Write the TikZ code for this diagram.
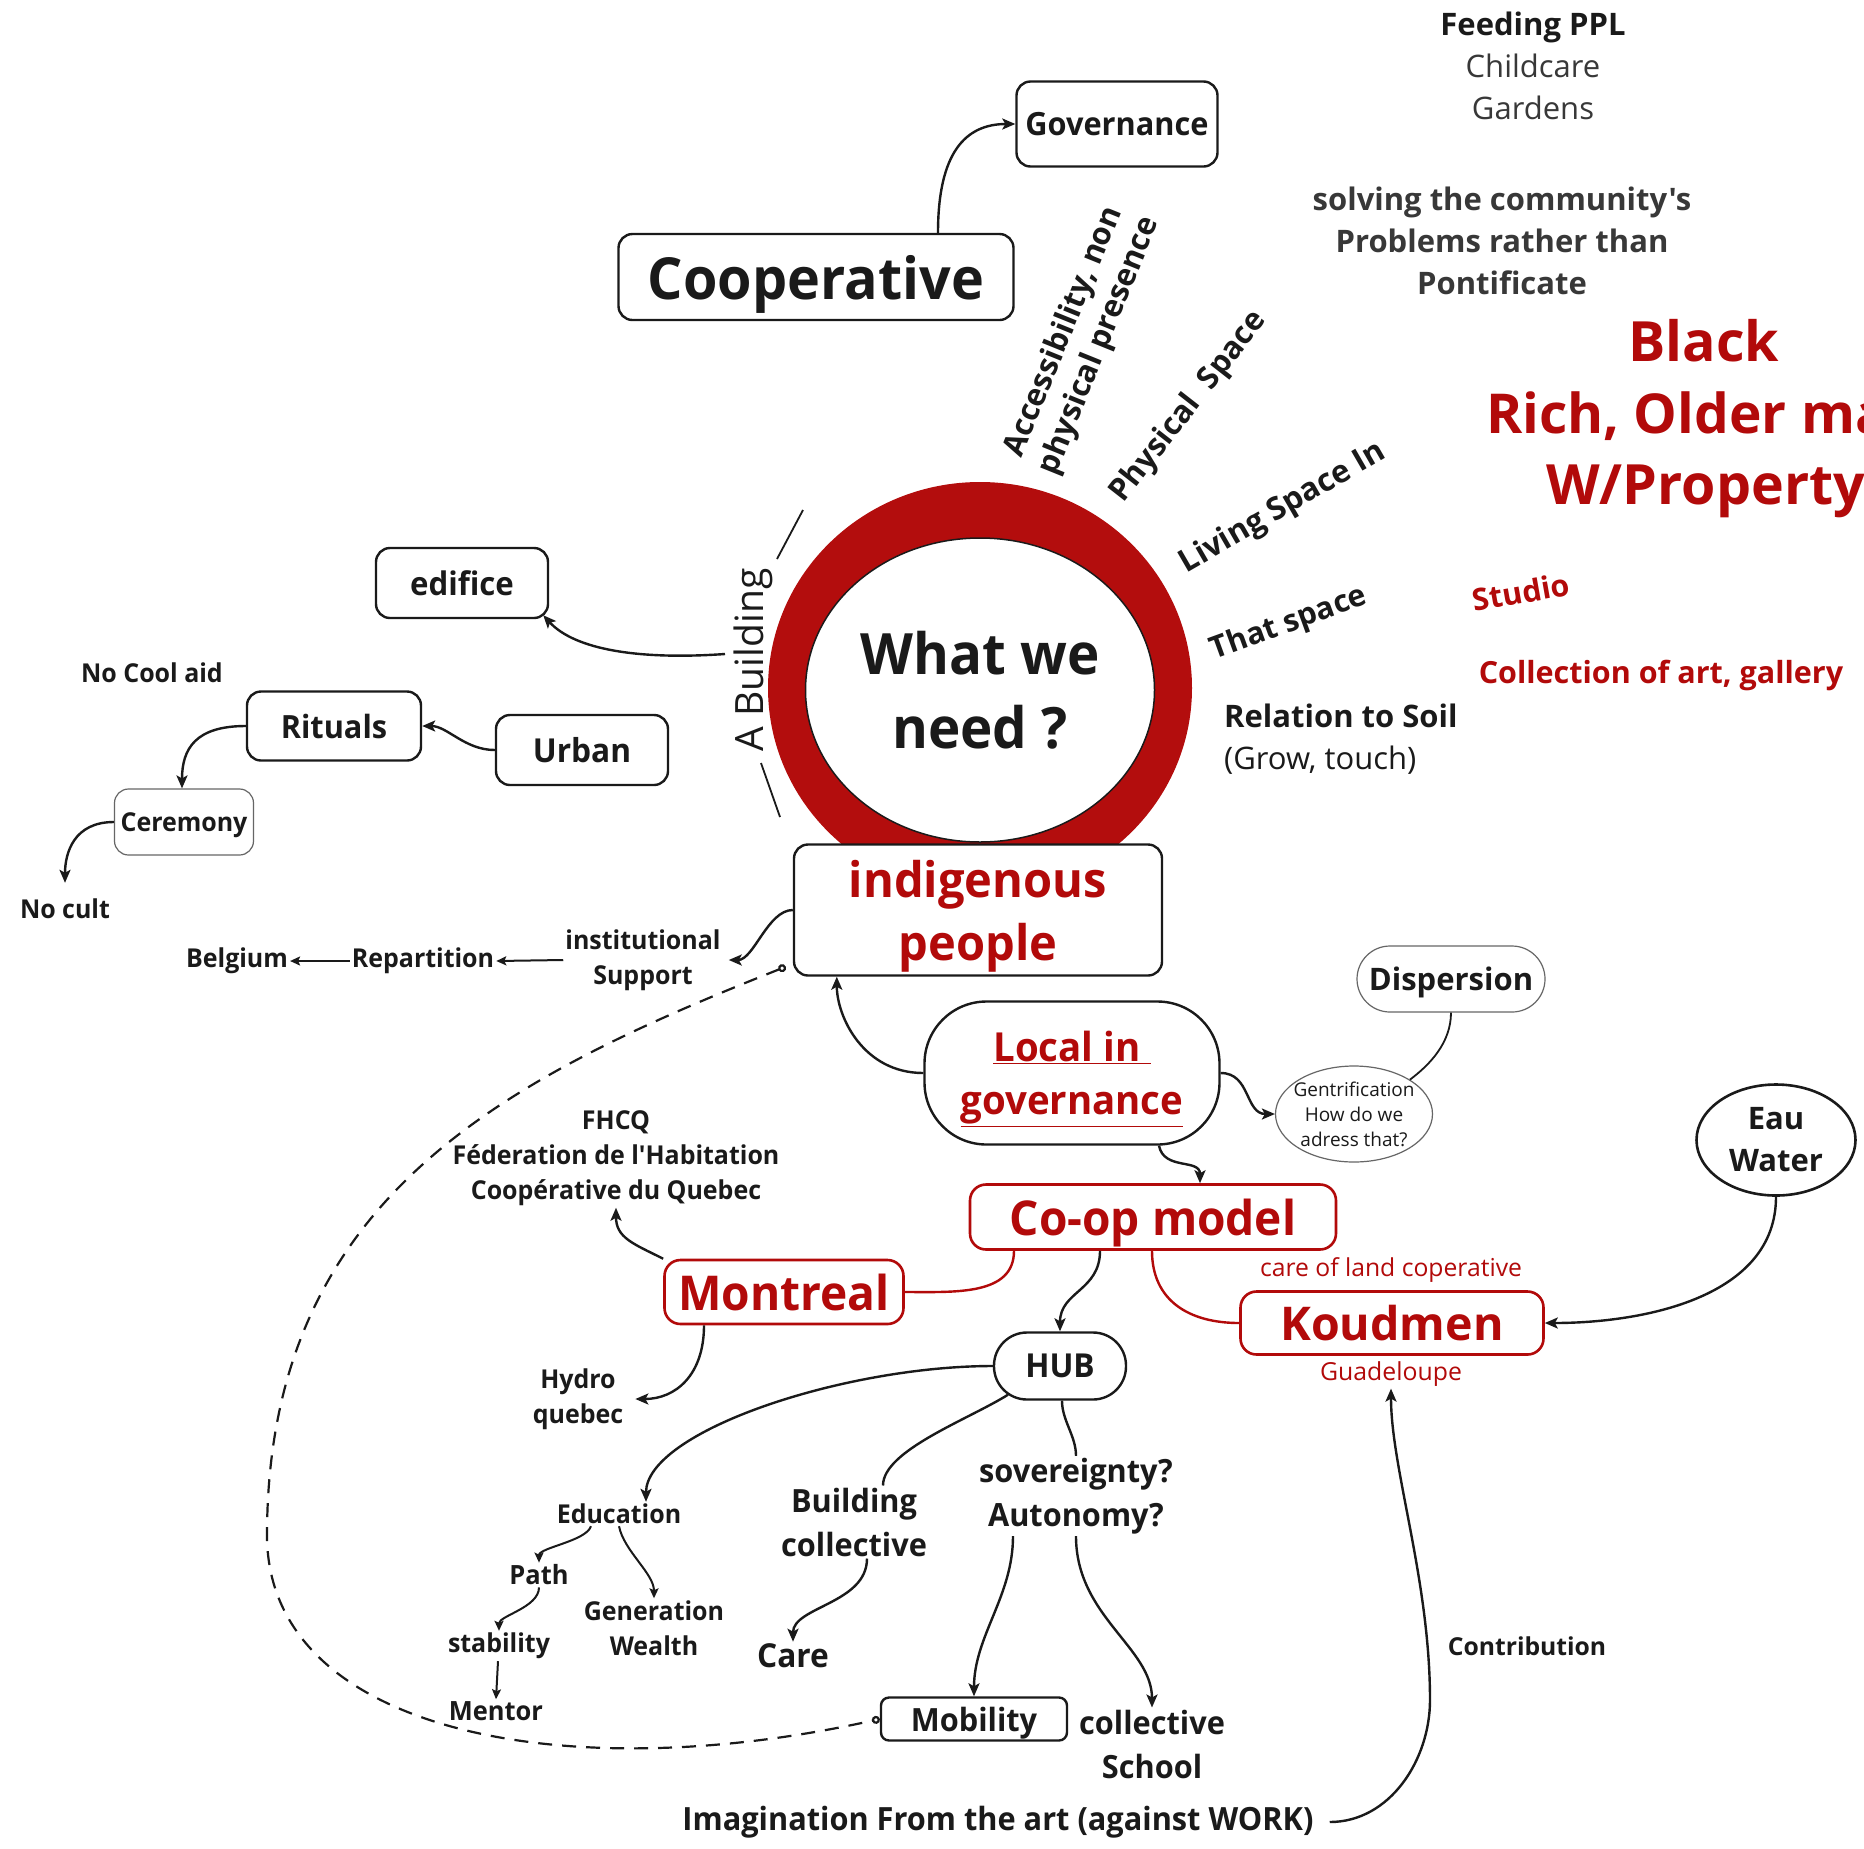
\documentclass[tikz,border=0pt]{standalone}
\usepackage{fontspec}
\setmainfont{Open Sans}[Ligatures=TeXOff]
\newfontfamily\cond{Open Sans}[FakeStretch=0.96,Ligatures=TeXOff]
\usetikzlibrary{arrows.meta,shapes.geometric,positioning}
\definecolor{ringred}{HTML}{B30D0D}
\definecolor{txtred}{HTML}{B20A0A}
\definecolor{ink}{HTML}{1A1A1A}
\definecolor{softgray}{HTML}{383838}
\newcommand\fs[2]{\fontsize{#1}{#2}\selectfont}
\tikzset{
  box/.style={draw=ink,line width=2.4pt,rounded corners=14pt,fill=white,inner sep=0pt,align=center,text=ink,text depth=0pt},
  thinbox/.style={draw=gray!80!black,line width=1.2pt,rounded corners=14pt,fill=white,inner sep=0pt,align=center,text=ink,text depth=0pt},
  redbox/.style={draw=txtred,line width=2.6pt,rounded corners=16pt,fill=white,inner sep=0pt,text=txtred,text depth=0pt},
  lbl/.style={inner sep=2pt,text=ink,align=center},
  plain/.style={draw=ink,line width=2.4pt},
  link/.style={plain,-{Stealth[length=13pt,width=11pt,inset=3pt]}},
  small/.style={plain,line width=2pt,-{Stealth[length=10pt,width=9pt,inset=2pt]}},
  redlink/.style={draw=txtred,line width=2.4pt},
}
\begin{document}
\begin{tikzpicture}[x=1pt,y=-1pt]
\clip (0,0) rectangle (1864,1848);
\fill[white] (0,0) rectangle (1864,1848);

% notes top right
\node[lbl,text=softgray,font=\fs{31}{42}] (feed) at (1533,66) {\textcolor{ink}{\textbf{Feeding PPL}}\\Childcare\\Gardens};
\node[lbl,text=softgray,font=\bfseries\fs{31}{42}] (solve) at (1502,241) {solving the community's\\Problems rather than\\Pontificate};
\node[lbl,text=txtred,font=\bfseries\fs{55.5}{75}] (black) at (1704,341) {Black};
\node[lbl,text=txtred,font=\bfseries\fs{55}{75},anchor=west] (rich) at (1484,416) {Rich, Older ma};
\node[lbl,text=txtred,font=\bfseries\fs{55.5}{75},anchor=west] (prop) at (1544,491) {W/Property};
\node[lbl,rotate=10,text=txtred,font=\bfseries\fs{30.5}{32}] (studio) at (1521,592) {Studio};
\node[lbl,text=txtred,font=\bfseries\fs{30.5}{32}] (gallery) at (1661,675) {Collection of art, gallery};

% the ring
\fill[ringred] (980,688) ellipse [x radius=212,y radius=206];
\node[ellipse,draw=ink,line width=1.5pt,fill=white,minimum width=349pt,minimum height=304pt,inner sep=0pt,align=center,text=ink,font=\cond\bfseries\fs{57}{74}] (need) at (980,690) {What we\\need ?};
\node[lbl,rotate=90,font=\fs{39}{40}] (bldg) at (753,660) {A Building};
\draw[plain,line width=1.8pt] (803,510) -- (777,559);
\draw[plain,line width=1.8pt] (761,763) -- (780,817);

\node[lbl,rotate=68,font=\bfseries\fs{31}{38}] (access) at (1082,339) {Accessibility, non\\physical presence};
\node[lbl,rotate=52,font=\bfseries\fs{31}{38}] (phys) at (1189,407) {Physical\ \ Space};
\node[lbl,rotate=30,font=\bfseries\fs{31.5}{38}] (living) at (1283,508) {Living Space In};
\node[lbl,rotate=20,font=\bfseries\fs{30.5}{38}] (that) at (1289,624) {That space};
\node[lbl,anchor=west,align=left,font=\fs{31}{42}] (soil) at (1222,739) {\textbf{Relation to Soil}\\(Grow, touch)};

% top left
\node[box,minimum width=201pt,minimum height=85pt,font=\cond\bfseries\fs{32}{36}] (gov) at (1117,124) {Governance};
\node[box,minimum width=395pt,minimum height=86pt,font=\cond\bfseries\fs{58}{70}] (coop) at (816,277) {Cooperative};
\node[box,minimum width=172pt,minimum height=70pt,font=\cond\bfseries\fs{32.5}{36}] (edif) at (462,583) {edifice};
\node[lbl,font=\cond\bfseries\fs{26}{30}] (cool) at (152,673) {No Cool aid};
\node[box,minimum width=174pt,minimum height=69pt,font=\cond\bfseries\fs{32}{36}] (rit) at (334,726) {Rituals};
\node[box,minimum width=172pt,minimum height=70pt,font=\cond\bfseries\fs{33}{36}] (urb) at (582,750) {Urban};
\node[thinbox,minimum width=139pt,minimum height=66pt,font=\cond\bfseries\fs{26}{30}] (cer) at (184,822) {Ceremony};
\node[lbl,font=\cond\bfseries\fs{26}{30}] (cult) at (65,909) {No cult};
\node[lbl,font=\cond\bfseries\fs{26}{30}] (belg) at (237,961) {Belgium};
\node[lbl,font=\cond\bfseries\fs{26}{30}] (rep) at (423,961) {Repartition};
\node[lbl,font=\cond\bfseries\fs{26}{35}] (inst) at (643,960) {institutional\\Support};
\coordinate (bstub) at (725,654);

% middle
\node[box,minimum width=368pt,minimum height=131pt,text=txtred,font=\cond\bfseries\fs{49}{63}] (ind) at (978,910) {indigenous\\people};
\node[box,rounded corners=62pt,minimum width=295pt,minimum height=143pt,text=txtred,font=\cond\bfseries\fs{40}{53}] (loc) at (1072,1073) {\underline{Local in\ }\\\underline{governance}};
\node[thinbox,rounded corners=33pt,minimum width=188pt,minimum height=66pt,font=\bfseries\fs{31}{36}] (disp) at (1451,979) {Dispersion};
\node[ellipse,draw=gray!80!black,line width=1.2pt,fill=white,minimum width=157pt,minimum height=96pt,inner xsep=-5pt,inner ysep=-3pt,align=center,text=ink,font=\fs{19}{25}] (gent) at (1354,1114) {Gentrification\\How do we\\adress that?};
\node[redbox,minimum width=366pt,minimum height=65pt,font=\cond\bfseries\fs{48}{50}] (cm) at (1153,1217) {Co-op model};
\node[lbl,text=txtred,font=\fs{24.7}{28}] (land) at (1391,1270) {care of land coperative};
\node[redbox,minimum width=303pt,minimum height=63pt,font=\bfseries\fs{46.5}{50}] (koud) at (1392,1323) {Koudmen};
\node[lbl,text=txtred,font=\fs{24.8}{28}] (guad) at (1391,1374) {Guadeloupe};
\node[ellipse,draw=ink,line width=2.6pt,fill=white,minimum width=159pt,minimum height=111pt,inner sep=0pt,align=center,text=ink,font=\bfseries\fs{31}{42}] (eau) at (1776,1140) {Eau\\Water};
\node[redbox,minimum width=239pt,minimum height=64pt,font=\cond\bfseries\fs{48}{52}] (mtl) at (784,1292) {Montreal};
\node[lbl,font=\cond\bfseries\fs{26}{35}] (fhcq) at (616,1158) {FHCQ\\Féderation de l'Habitation\\Coopérative du Quebec};
\node[lbl,font=\cond\bfseries\fs{26}{35}] (hydro) at (578,1399) {Hydro\\quebec};
\node[box,rounded corners=33pt,minimum width=132pt,minimum height=67pt,font=\cond\bfseries\fs{33}{36}] (hub) at (1060,1366) {HUB};

% bottom
\node[lbl,font=\cond\bfseries\fs{26}{30}] (edu) at (619,1514) {Education};
\node[lbl,font=\cond\bfseries\fs{26.5}{30}] (path) at (539,1575) {Path};
\node[lbl,font=\cond\bfseries\fs{26}{35}] (gen) at (654,1628) {Generation\\Wealth};
\node[lbl,font=\cond\bfseries\fs{26}{30}] (stab) at (499,1646) {stability};
\node[lbl,font=\cond\bfseries\fs{26.5}{30}] (ment) at (496,1711) {Mentor};
\node[lbl,font=\cond\bfseries\fs{32}{44}] (build) at (854,1522) {Building\\collective};
\node[lbl,font=\cond\bfseries\fs{33}{36}] (care) at (793,1656) {Care};
\node[lbl,font=\cond\bfseries\fs{32}{44}] (sov) at (1076,1496) {sovereignty?\\Autonomy?};
\node[box,rounded corners=8pt,minimum width=186pt,minimum height=43pt,font=\cond\bfseries\fs{32}{36}] (mob) at (974,1719) {Mobility};
\node[lbl,font=\cond\bfseries\fs{32}{44}] (school) at (1152,1744) {collective\\School};
\node[lbl,font=\cond\bfseries\fs{32}{36}] (imag) at (998,1822) {Imagination From the art (against WORK)};
\node[lbl,font=\bfseries\fs{24.7}{30}] (contr) at (1527,1646) {Contribution};
\coordinate (bend) at (1430,1700);
\coordinate (loop) at (267,1534);

% connectors
\draw[link] ([xshift=122pt]coop.north) .. controls +(0,-80) and +(-50,0) .. (gov.west);
\draw[link] (bstub) .. controls (640,660) and (575,650) .. ([xshift=-6pt,yshift=4pt]edif.south east);
\draw[link] (urb.west) .. controls +(-30,0) and +(25,0) .. (rit.east);
\draw[link] (rit.west) .. controls +(-50,0) and +(0,-40) .. ([xshift=-2pt]cer.north);
\draw[link] (cer.west) .. controls +(-40,0) and +(0,-30) .. ([yshift=14pt]cult.north);
\draw[small] (inst.west) -- (rep.east);
\draw[small] (rep.west) -- (belg.east);
\draw[link] (ind.west) .. controls +(-25,0) and +(25,0) .. ([xshift=6pt]inst.east);
\draw[link] (loc.west) .. controls +(-60,0) and +(0,40) .. ([xshift=44pt]ind.south west);
\draw[link] (loc.east) .. controls +(30,0) and +(-30,0) .. (gent.west);
\draw[link] ([xshift=87pt]loc.south) .. controls +(5,25) and +(0,-25) .. ([xshift=47pt]cm.north);
\draw[plain,line width=1.8pt] (disp.south) .. controls +(0,30) and +(20,-15) .. (gent.north east);
\draw[redlink] ([xshift=-1pt]cm.south) .. controls +(0,50) and +(-50,0) .. (koud.west);
\draw[redlink] ([xshift=-139pt]cm.south) .. controls +(0,45) and +(50,0) .. (mtl.east);
\draw[link] (eau.south) .. controls +(0,100) and +(100,0) .. (koud.east);
\draw[link] (mtl.north west) .. controls +(-30,-15) and +(0,30) .. (fhcq.south);
\draw[link] ([xshift=-80pt]mtl.south) .. controls +(0,50) and +(40,0) .. ([xshift=10pt]hydro.east);
\draw[link] ([xshift=-53pt]cm.south) .. controls +(0,40) and +(0,-40) .. (hub.north);
\draw[link] (hub.west) .. controls +(-150,0) and +(0,-70) .. ([xshift=27pt]edu.north);
\draw[plain] ([xshift=-52pt,yshift=6pt]hub.south) .. controls +(-40,25) and +(0,-35) .. ([xshift=29pt]build.north);
\draw[plain] ([xshift=2pt]hub.south) .. controls +(0,20) and +(0,-20) .. (sov.north);
\draw[link] ([xshift=-63pt]sov.south) .. controls +(0,60) and +(0,-60) .. (mob.north);
\draw[link] (sov.south) .. controls +(0,80) and +(0,-60) .. (school.north);
\draw[link] ([xshift=13pt]build.south) .. controls +(0,45) and +(0,-35) .. (care.north);
\draw[small] ([xshift=-28pt]edu.south) .. controls +(-5,15) and +(0,-15) .. (path.north);
\draw[small] (edu.south) .. controls +(5,25) and +(0,-25) .. (gen.north);
\draw[small] (path.south) .. controls +(0,20) and +(0,-15) .. (stab.north);
\draw[small] ([xshift=-1pt]stab.south) -- (ment.north);
\draw[link] ([xshift=14pt]imag.east) .. controls +(60,0) and +(0,60) .. (bend) .. controls +(0,-120) and +(0,80) .. (guad.south);
\draw[plain,line width=2.2pt,dash pattern=on 14pt off 10pt,{Circle[open,length=8pt]}-{Circle[open,length=8pt]}] ([xshift=-7pt,yshift=10pt]ind.south west) .. controls (500,1080) and (268,1200) .. (loop) .. controls (266,1730) and (560,1790) .. (mob.west);
\end{tikzpicture}
\end{document}
